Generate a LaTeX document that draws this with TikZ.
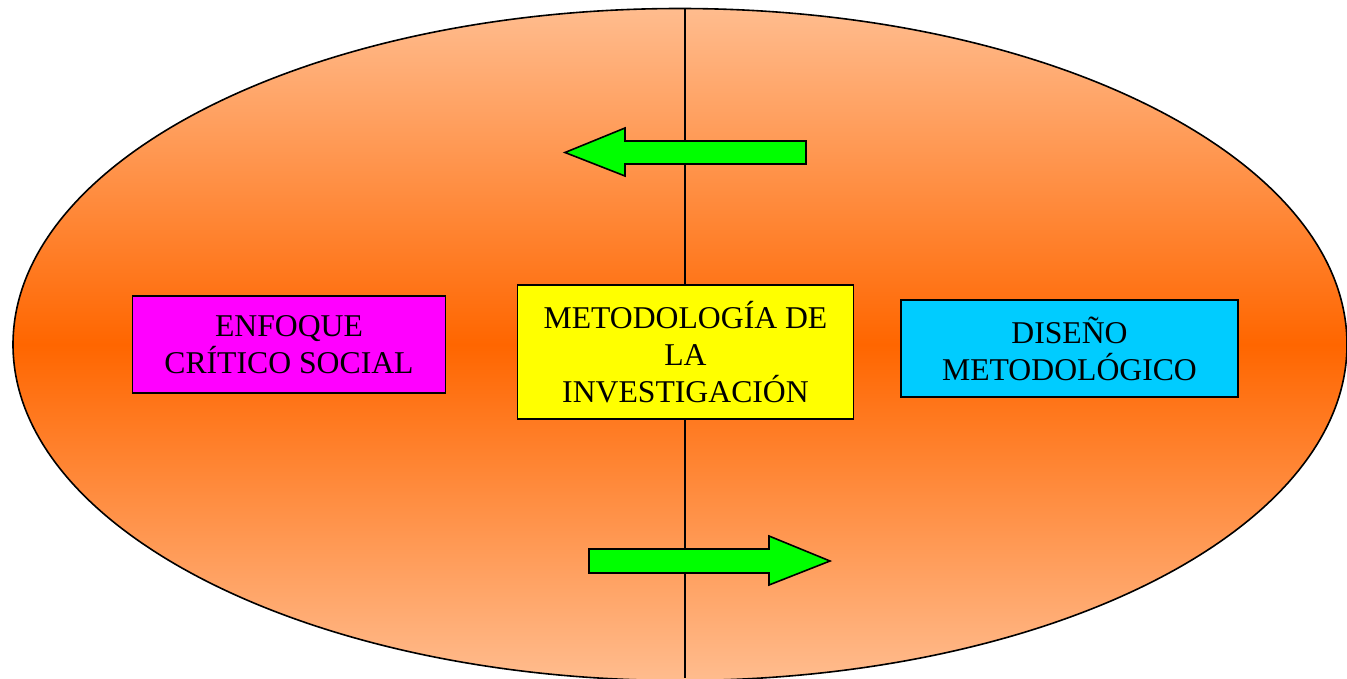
\documentclass[tikz,border=0pt]{standalone}
\usepackage{fontspec}
\setmainfont{Liberation Serif}
\definecolor{peach}{RGB}{255,188,142}
\definecolor{orangec}{RGB}{255,102,0}
\definecolor{boxmag}{RGB}{255,0,255}
\definecolor{boxyel}{RGB}{255,255,0}
\definecolor{boxcyan}{RGB}{0,204,255}
\definecolor{arrgreen}{RGB}{0,255,0}
\begin{document}
\begin{tikzpicture}[x=1pt,y=-1pt,
  labelbox/.style={draw=black,line width=1.6pt,align=center,inner sep=0pt,
    font=\fontsize{31.7}{37}\selectfont,text=black},
  blockarrow/.style={draw=black,line width=1.6pt,fill=arrgreen,line join=miter}]
\useasboundingbox (0,0) rectangle (1347,678);
\clip (0,0) rectangle (1347,678);
% ellipse with vertical gradient
\shade[top color=peach,bottom color=peach,middle color=orangec,draw=black,line width=1.6pt]
  (680,344.5) ellipse [x radius=667, y radius=336];
% vertical divider
\coordinate (vtop) at (685,9);
\coordinate (vbot) at (685,678);
\draw[line width=1.6pt] (vtop) -- (vbot);
% arrows
\draw[blockarrow] (565,152.5) -- (625,128) -- (625,141) -- (806,141) -- (806,164) -- (625,164) -- (625,176) -- cycle;
\draw[blockarrow] (830,561) -- (769,536) -- (769,549) -- (589,549) -- (589,573) -- (769,573) -- (769,585) -- cycle;
% boxes
\node[labelbox,fill=boxmag,minimum width=313,minimum height=97] (enf) at (289,344.5) {ENFOQUE\\CRÍTICO SOCIAL};
\node[labelbox,fill=boxyel,minimum width=336,minimum height=134] (met) at (685.5,352) {METODOLOGÍA DE\\LA\\INVESTIGACIÓN};
\node[labelbox,fill=boxcyan,minimum width=337,minimum height=97] (dis) at (1069.5,348.5) {DISEÑO\\METODOLÓGICO};
\end{tikzpicture}
\end{document}
